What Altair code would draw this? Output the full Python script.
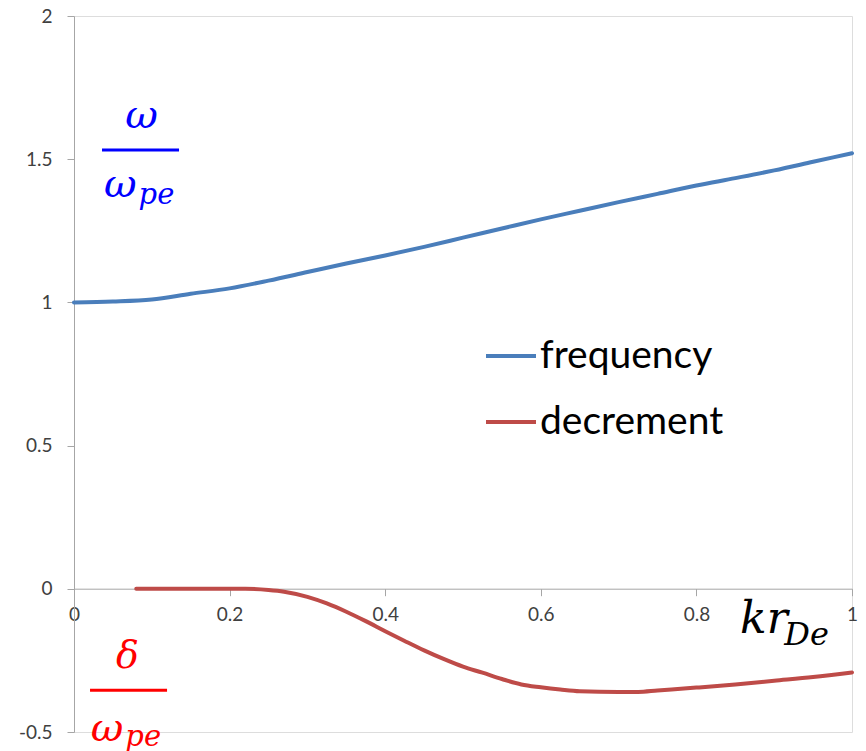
import altair as alt
import pandas as pd

# ---- data ----
k_freq = [0.00, 0.05, 0.10, 0.15, 0.20, 0.25, 0.30, 0.35, 0.40, 0.45, 0.50,
          0.55, 0.60, 0.65, 0.70, 0.75, 0.80, 0.85, 0.90, 0.95, 1.00]
frequency = [1.000, 1.003, 1.010, 1.030, 1.049, 1.076, 1.106, 1.136, 1.164, 1.194, 1.226,
             1.258, 1.290, 1.320, 1.350, 1.379, 1.408, 1.434, 1.461, 1.491, 1.521]

k_dec = [0.08, 0.10, 0.15, 0.20, 0.22, 0.25, 0.27, 0.30, 0.325, 0.35, 0.375, 0.40,
         0.425, 0.45, 0.475, 0.50, 0.525, 0.55, 0.575, 0.60, 0.625, 0.65, 0.70,
         0.725, 0.75, 0.80, 0.85, 0.90, 0.95, 1.00]
decrement = [0.0, 0.0, 0.0, 0.0, 0.0, -0.004, -0.010, -0.028, -0.051, -0.080, -0.113, -0.148,
             -0.182, -0.215, -0.245, -0.272, -0.293, -0.315, -0.334, -0.344, -0.352, -0.358, -0.360,
             -0.360, -0.355, -0.345, -0.334, -0.321, -0.308, -0.292]

series_names = ["frequency", "decrement"]
series_colors = ["#4A7EBB", "#BE4B48"]

x_ticks = [0, 0.2, 0.4, 0.6, 0.8, 1]
y_ticks = [-0.5, 0, 0.5, 1, 1.5, 2]

# annotation texts (math labels) in data coordinates
ann_text = ["ω", "ω", "pe", "δ", "ω", "pe", "kr", "De"]
ann_k = [0.0870, 0.0386, 0.0830, 0.0688, 0.0215, 0.0660, 0.8560, 0.9130]
ann_v = [1.609, 1.368, 1.343, -0.277, -0.530, -0.550, -0.155, -0.197]
ann_size = [40, 40, 29, 38, 40, 29, 44, 32]
ann_color = ["#0000FF", "#0000FF", "#0000FF", "#FF0000", "#FF0000", "#FF0000", "#000000", "#000000"]
ann_align = ["center", "left", "left", "center", "left", "left", "left", "left"]

bar_k = [0.036, 0.0206]
bar_k2 = [0.135, 0.1196]
bar_v = [1.532, -0.354]
bar_color = ["#0000FF", "#FF0000"]

# ---- build tables ----
df = pd.concat([
    pd.DataFrame({"k": k_freq, "v": frequency, "series": series_names[0]}),
    pd.DataFrame({"k": k_dec, "v": decrement, "series": series_names[1]}),
], ignore_index=True)

ann = pd.DataFrame({"k": ann_k, "v": ann_v, "text": ann_text, "size": ann_size,
                    "color": ann_color, "align": ann_align})
bars = pd.DataFrame({"k": bar_k, "k2": bar_k2, "v": bar_v, "color": bar_color})

axis_color = "#A6A6A6"
label_font = "Lato"

xscale = alt.Scale(domain=[0, 1], nice=False, zero=False)
yscale = alt.Scale(domain=[-0.5, 2], nice=False, zero=False)

num_expr = "datum.value < 0 ? '-' + format(-datum.value, '~g') : format(datum.value, '~g')"

x_enc = alt.X("k:Q", scale=xscale, axis=alt.Axis(
    values=x_ticks, title=None, grid=False, offset=-143.3, tickSize=7,
    labelPadding=10, labelFlush=False, labelFont=label_font, labelFontSize=19,
    labelColor="#404040", domainColor=axis_color, tickColor=axis_color,
    labelExpr=num_expr, labelOverlap=False))
y_enc = alt.Y("v:Q", scale=yscale, axis=alt.Axis(
    values=y_ticks, title=None, grid=False, tickSize=7, labelPadding=15,
    labelFlush=False, labelFont=label_font, labelFontSize=19, labelColor="#404040",
    domainColor=axis_color, tickColor=axis_color, labelExpr=num_expr, labelOverlap=False))

lines = alt.Chart(df).mark_line(strokeWidth=4, strokeCap="round", interpolate="monotone").encode(
    x=x_enc, y=y_enc,
    color=alt.Color("series:N", scale=alt.Scale(domain=series_names, range=series_colors),
                    sort=series_names,
                    legend=alt.Legend(title=None, orient="none", legendX=410, legendY=313,
                                      symbolType="stroke", symbolSize=2500, symbolStrokeWidth=4,
                                      labelFont=label_font, labelFontSize=39, labelColor="black",
                                      labelLimit=0, rowPadding=19, labelOffset=2, padding=0)),
    order=alt.Order("k:Q"),
)

layers = [lines]

for c in bar_color:
    layers.append(
        alt.Chart(bars[bars["color"] == c]).mark_rule(strokeWidth=3, color=c).encode(
            x="k:Q", x2="k2:Q", y="v:Q")
    )

for i in range(len(ann)):
    row = ann.iloc[[i]]
    layers.append(
        alt.Chart(row).mark_text(font="DejaVu Serif", fontStyle="italic",
                                 fontSize=int(ann_size[i]), color=ann_color[i],
                                 align=ann_align[i], baseline="alphabetic").encode(
            x="k:Q", y="v:Q", text="text:N")
    )

chart = alt.layer(*layers).properties(
    width=778, height=716,
    autosize=alt.AutoSizeParams(type="none"),
    padding={"left": 66, "top": 8, "right": 6, "bottom": 19},
).configure_view(stroke=None).configure(background="white")

chart.save("out.html", embed_options={"renderer": "svg", "actions": False})
